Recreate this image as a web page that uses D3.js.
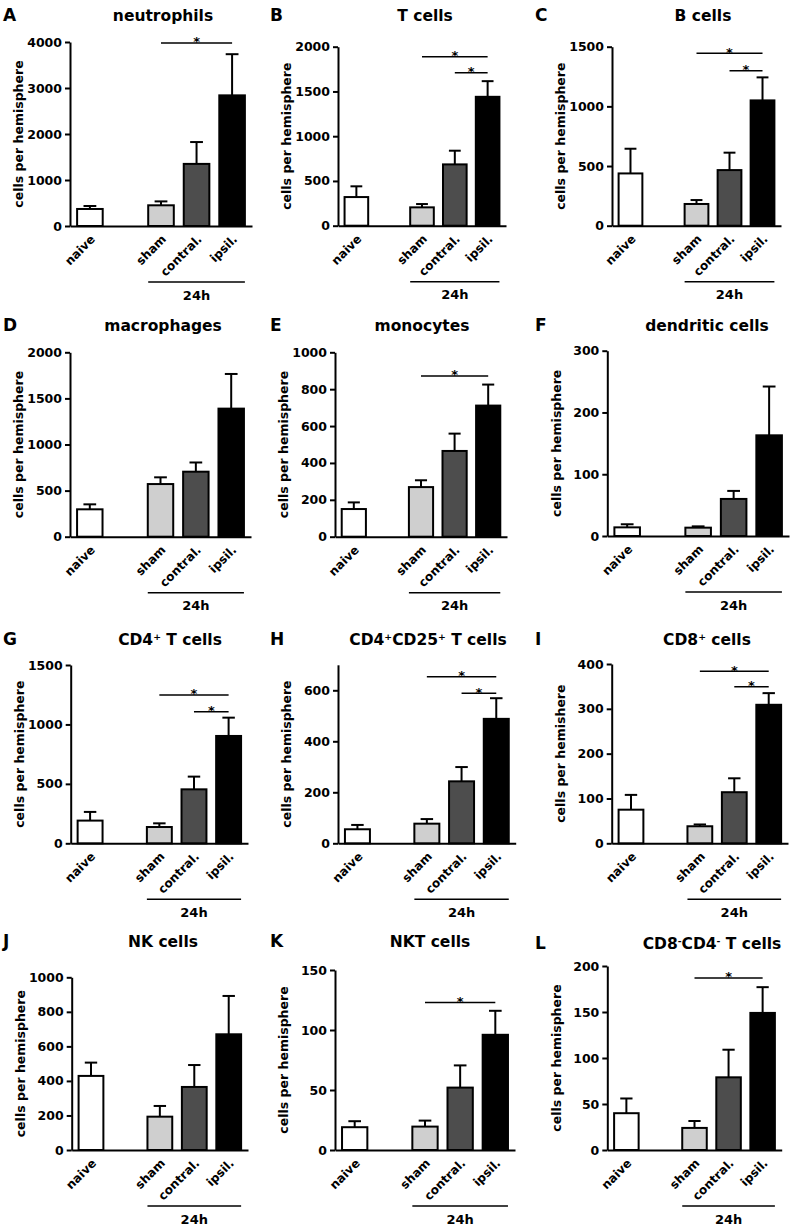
<!DOCTYPE html>
<html><head><meta charset="utf-8">
<script src="https://cdn.jsdelivr.net/npm/d3@7"></script>
<style>
body{margin:0;background:#fff}
svg{display:block}
text{font-family:"DejaVu Sans",sans-serif;font-weight:bold;fill:#000}
</style>
</head><body>
<svg id="c" width="795" height="1226"></svg>
<script>
// ---------- data ----------
const categories = ["naive", "sham", "contral.", "ipsil."];
const groupLabel = "24h";
const panelLetters = ["A","B","C","D","E","F","G","H","I","J","K","L"];
const panelTitles = ["neutrophils","T cells","B cells","macrophages","monocytes","dendritic cells",
  "CD4{+} T cells","CD4{+}CD25{+} T cells","CD8{+} cells","NK cells","NKT cells","CD8{-}CD4{-} T cells"];
const yLabels = ["cells per hemisphere","cells per hemisphere","cells per hemisphere","cells per hemisphere",
  "cells per hemisphere","cells per hemisphere","cells per hemisphere","cells per hemisphere",
  "cells per hemishere","cells per hemisphere","cells per hemisphere","cells per hemisphere"];
const yMax = [4000, 2000, 1500, 2000, 1000, 300, 1500, 700, 400, 1000, 150, 200];
const yTicks = [
  [0,1000,2000,3000,4000],[0,500,1000,1500,2000],[0,500,1000,1500],
  [0,500,1000,1500,2000],[0,200,400,600,800,1000],[0,100,200,300],
  [0,500,1000,1500],[0,200,400,600],[0,100,200,300,400],
  [0,200,400,600,800,1000],[0,50,100,150],[0,50,100,150,200]
];
// mean values per panel: naive, sham, contral., ipsil.
const means = [
  [370, 450, 1350, 2840],
  [320, 205, 685, 1440],
  [438, 182, 466, 1050],
  [297, 571, 705, 1389],
  [150, 269, 465, 711],
  [14, 13.5, 60, 163],
  [191, 137, 454, 903],
  [55, 77, 243, 488],
  [75, 38, 114, 309],
  [429, 193, 365, 670],
  [19, 19.5, 52, 96],
  [40, 24, 79, 149]
];
// SEM (upper error bar)
const sems = [
  [65, 85, 475, 895],
  [120, 37, 153, 175],
  [207, 33, 146, 193],
  [54, 73, 100, 376],
  [36, 37, 94, 114],
  [5, 2.1, 13, 79],
  [73, 31, 107, 154],
  [17, 18, 56, 81],
  [33, 4, 31, 26],
  [77, 62, 127, 222],
  [5, 5, 18.5, 20],
  [16, 7.5, 30, 28]
];
// significance brackets: [from, to, level]
const sigs = [
  [["sham","ipsil.",3980]],
  [["sham","ipsil.",1888],["contral.","ipsil.",1709]],
  [["sham","ipsil.",1445],["contral.","ipsil.",1299]],
  [],
  [["sham","ipsil.",872]],
  [],
  [["sham","ipsil.",1248],["contral.","ipsil.",1107]],
  [["sham","ipsil.",653],["contral.","ipsil.",588]],
  [["sham","ipsil.",384],["contral.","ipsil.",349]],
  [],
  [["sham","ipsil.",123]],
  [["sham","ipsil.",187]]
];
const barColors = ["#ffffff", "#cfcfcf", "#4d4d4d", "#000000"];

// ---------- layout ----------
const layout = [
 {ax:70, top:42, zero:226, xEnd:252, tx:163, ty:15, lx:3},
 {ax:338, top:46.7, zero:225.7, xEnd:506, tx:425, ty:15, lx:270},
 {ax:612, top:46.7, zero:225.7, xEnd:781, tx:703, ty:15, lx:535},
 {ax:70, top:352.3, zero:536.7, xEnd:251, tx:163, ty:325, lx:3},
 {ax:335, top:352.3, zero:536.7, xEnd:507, tx:422, ty:325, lx:270},
 {ax:607.3, top:350.7, zero:536, xEnd:789, tx:707, ty:325, lx:535},
 {ax:70.7, top:665, zero:843.3, xEnd:248, tx:170, ty:639, lx:3},
 {ax:338, top:664.8, zero:843.3, xEnd:515.7, tx:428, ty:639, lx:270},
 {ax:611.7, top:664, zero:843.3, xEnd:788, tx:707, ty:639, lx:535},
 {ax:71.7, top:977.3, zero:1150, xEnd:248, tx:163, ty:941, lx:3},
 {ax:335, top:970, zero:1150, xEnd:515, tx:430, ty:941, lx:270},
 {ax:607.3, top:966, zero:1150, xEnd:781.7, tx:712, ty:943, lx:535}
];

const svg = d3.select("#c");
const slots = ["naive", "_gap", "sham", "contral.", "ipsil."];

function addRichText(sel, str){
  const parts = str.split(/(\{[^}]*\})/).filter(s => s.length);
  parts.forEach(p => {
    if (p.startsWith("{")) {
      sel.append("tspan").attr("baseline-shift","super").attr("font-size","0.6em").text(p.slice(1,-1));
    } else {
      sel.append("tspan").text(p);
    }
  });
}

layout.forEach((L, i) => {
  const g = svg.append("g");
  const y = d3.scaleLinear().domain([0, yMax[i]]).range([L.zero, L.top]);
  const x = d3.scaleBand().domain(slots).range([L.ax, L.xEnd]).paddingInner(0.28).paddingOuter(0.2);
  const bw = x.bandwidth();

  // panel letter and title
  g.append("text").attr("x", L.lx).attr("y", L.ty).attr("dy","0.36em")
    .attr("font-size", 17).text(panelLetters[i]);
  const t = g.append("text").attr("x", L.tx).attr("y", L.ty).attr("dy","0.36em")
    .attr("font-size", 15.5).attr("text-anchor","middle");
  addRichText(t, panelTitles[i]);

  // y axis
  const ya = g.append("g").attr("transform", `translate(${L.ax},0)`)
    .call(d3.axisLeft(y).tickValues(yTicks[i]).tickSize(5).tickSizeOuter(0).tickPadding(3).tickFormat(d3.format("d")));
  ya.select(".domain").attr("stroke-width", 2);
  ya.selectAll(".tick line").attr("stroke-width", 2);
  ya.selectAll(".tick text").attr("font-size", 12.5).attr("font-family", "DejaVu Sans").attr("font-weight","bold");

  // y label
  g.append("text")
    .attr("transform", `translate(${L.ax - 51},${(L.top + L.zero)/2}) rotate(-90)`)
    .attr("text-anchor","middle").attr("dy","0.35em").attr("font-size", 12.5)
    .text(yLabels[i]);

  // x axis
  const xa = g.append("g").attr("transform", `translate(0,${L.zero})`)
    .call(d3.axisBottom(x).tickValues(categories).tickSize(0).tickSizeOuter(0));
  xa.select(".domain").attr("stroke-width", 2);
  xa.selectAll(".tick text")
    .attr("font-size", 12).attr("font-family", "DejaVu Sans").attr("font-weight","bold")
    .attr("x", 0).attr("y", 0).attr("dy", "0.35em")
    .attr("transform", "translate(3,11) rotate(-45)")
    .style("text-anchor", "end");

  // error bars
  categories.forEach((c, j) => {
    const cx = x(c) + bw/2;
    const m = means[i][j], e = sems[i][j];
    g.append("line").attr("x1", cx).attr("x2", cx).attr("y1", y(m)).attr("y2", y(m+e))
      .attr("stroke","#000").attr("stroke-width", 2);
    g.append("line").attr("x1", cx - bw*0.25).attr("x2", cx + bw*0.25).attr("y1", y(m+e)).attr("y2", y(m+e))
      .attr("stroke","#000").attr("stroke-width", 2);
  });

  // bars
  g.selectAll("rect.bar").data(categories).join("rect").attr("class","bar")
    .attr("x", d => x(d)).attr("width", bw)
    .attr("y", (d, j) => y(means[i][j])).attr("height", (d, j) => y(0) - y(means[i][j]))
    .attr("fill", (d, j) => barColors[j]).attr("stroke", "#000").attr("stroke-width", 2);

  // 24h bracket
  const gy = L.zero + 56;
  const gx1 = x("sham"), gx2 = x("ipsil.") + bw;
  g.append("line").attr("x1", gx1).attr("x2", gx2).attr("y1", gy).attr("y2", gy)
    .attr("stroke","#000").attr("stroke-width", 1.5);
  g.append("text").attr("x", (gx1+gx2)/2).attr("y", gy + 13).attr("dy","0.35em")
    .attr("text-anchor","middle").attr("font-size", 13).text(groupLabel);

  // significance
  sigs[i].forEach(s => {
    const x1 = x(s[0]) + bw/2, x2 = x(s[1]) + bw/2, yy = y(s[2]);
    g.append("line").attr("x1", x1).attr("x2", x2).attr("y1", yy).attr("y2", yy)
      .attr("stroke","#000").attr("stroke-width", 1.5);
    g.append("text").attr("x", (x1+x2)/2).attr("y", yy + 3.5).attr("text-anchor","middle")
      .attr("font-size", 13).style("fill", "#000").text("*");
  });
});
</script>
</body></html>
